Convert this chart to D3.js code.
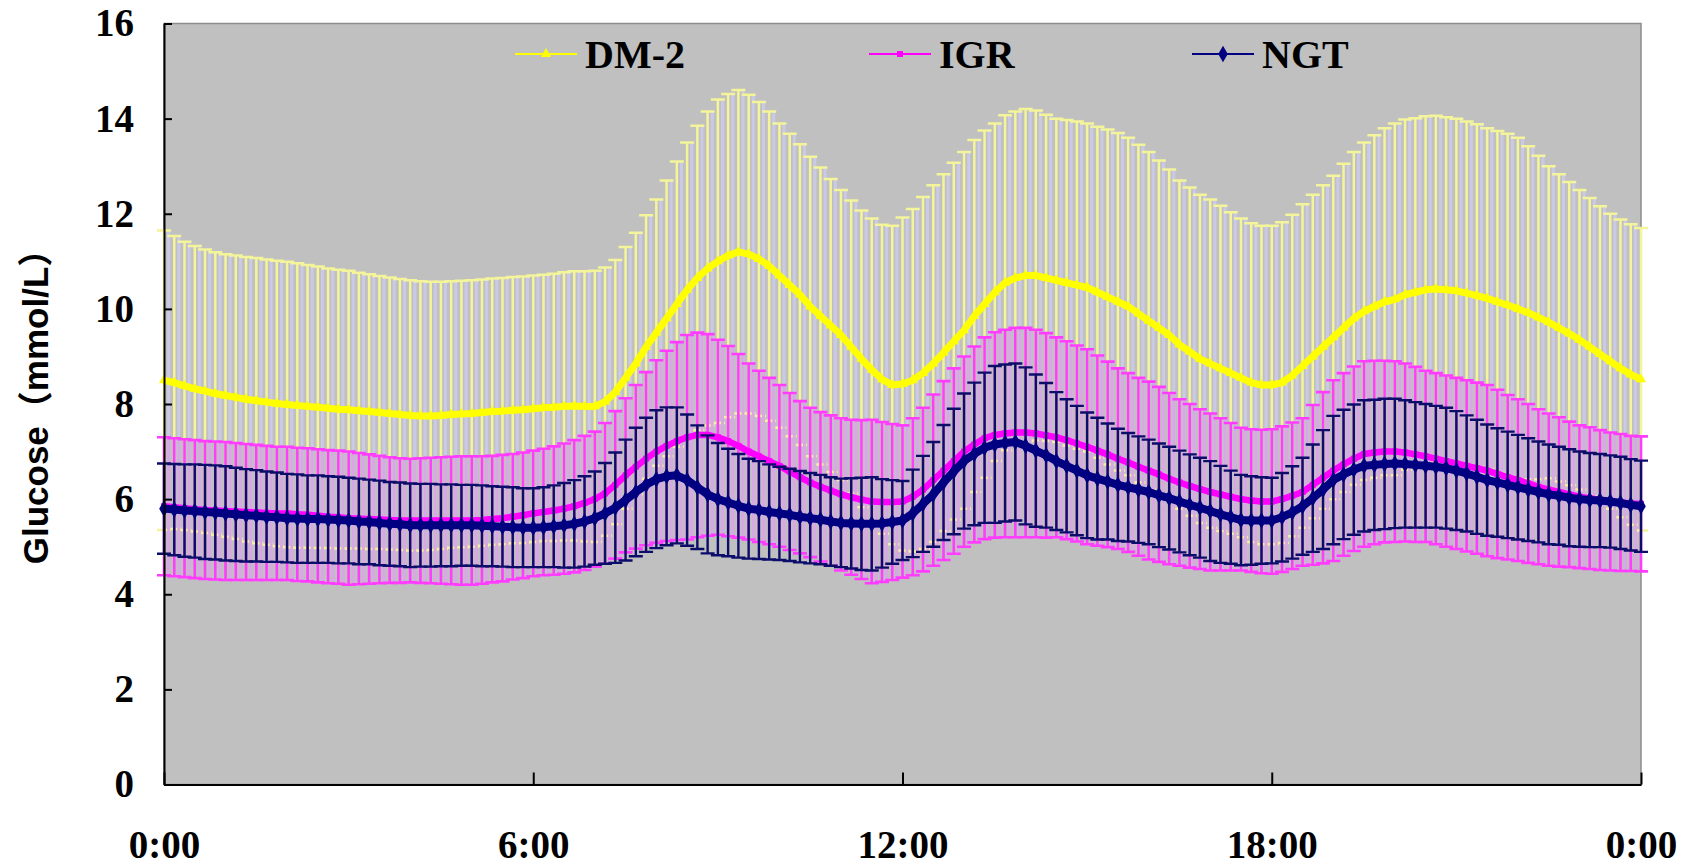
<!DOCTYPE html>
<html>
<head>
<meta charset="utf-8">
<title>Glucose profile</title>
<script src="https://d3js.org/d3.v7.min.js"></script>
<style>
body { margin: 0; background: #ffffff; }
.tick text { font-family: "Liberation Serif", "Times New Roman", serif; font-weight: bold; }
</style>
</head>
<body>
<div id="chart"></div>
<script>
// groups in legend order
var seriesNames = ["DM-2", "IGR", "NGT"];

// axis ticks
var yTicks = [0, 2, 4, 6, 8, 10, 12, 14, 16];
var xTickMinutes = [0, 360, 720, 1080, 1440];
var xTickLabels = ["0:00", "6:00", "12:00", "18:00", "0:00"];

// sample times, minutes after midnight (every 10 min)
var minutes = d3.range(0, 1441, 10);

// mean glucose (mmol/L), one row per hour
var dm2Mean = [
  8.50, 8.45, 8.38, 8.32, 8.27, 8.22,
  8.18, 8.14, 8.10, 8.07, 8.04, 8.01,
  7.99, 7.97, 7.95, 7.93, 7.91, 7.89,
  7.88, 7.86, 7.84, 7.82, 7.80, 7.78,
  7.76, 7.75, 7.75, 7.76, 7.78, 7.79,
  7.80, 7.82, 7.84, 7.85, 7.87, 7.88,
  7.90, 7.92, 7.93, 7.95, 7.96, 7.95,
  7.95, 8.05, 8.25, 8.55, 8.85, 9.20,
  9.50, 9.80, 10.10, 10.40, 10.65, 10.85,
  11.00, 11.12, 11.20, 11.15, 11.05, 10.90,
  10.70, 10.50, 10.30, 10.05, 9.85, 9.65,
  9.45, 9.20, 8.95, 8.72, 8.52, 8.40,
  8.42, 8.50, 8.65, 8.85, 9.08, 9.32,
  9.55, 9.85, 10.10, 10.35, 10.55, 10.65,
  10.70, 10.70, 10.65, 10.60, 10.55, 10.50,
  10.45, 10.35, 10.25, 10.15, 10.05, 9.90,
  9.75, 9.60, 9.45, 9.25, 9.10, 8.95,
  8.85, 8.75, 8.65, 8.55, 8.45, 8.40,
  8.40, 8.45, 8.60, 8.80, 9.00, 9.20,
  9.40, 9.60, 9.80, 9.95, 10.05, 10.15,
  10.20, 10.30, 10.35, 10.40, 10.42, 10.40,
  10.38, 10.33, 10.28, 10.22, 10.15, 10.08,
  10.00, 9.92, 9.82, 9.72, 9.60, 9.48,
  9.35, 9.20, 9.05, 8.90, 8.75, 8.62,
  8.52
];
var dm2SD = [
  3.15, 3.08, 3.03, 3.00, 2.98, 2.97,
  2.97, 2.98, 2.99, 3.00, 3.00, 3.00,
  3.00, 2.99, 2.97, 2.96, 2.94, 2.93,
  2.92, 2.90, 2.89, 2.87, 2.86, 2.85,
  2.84, 2.83, 2.82, 2.81, 2.80, 2.80,
  2.80, 2.80, 2.80, 2.80, 2.80, 2.80,
  2.80, 2.80, 2.81, 2.82, 2.83, 2.84,
  2.85, 2.82, 2.78, 2.75, 2.75, 2.77,
  2.80, 2.90, 3.00, 3.10, 3.20, 3.30,
  3.40, 3.40, 3.40, 3.35, 3.30, 3.25,
  3.20, 3.18, 3.16, 3.15, 3.12, 3.08,
  3.05, 3.08, 3.12, 3.18, 3.25, 3.35,
  3.50, 3.60, 3.70, 3.75, 3.75, 3.75,
  3.75, 3.70, 3.65, 3.55, 3.52, 3.50,
  3.50, 3.47, 3.43, 3.40, 3.42, 3.44,
  3.45, 3.48, 3.52, 3.55, 3.55, 3.55,
  3.55, 3.52, 3.48, 3.45, 3.45, 3.45,
  3.45, 3.42, 3.38, 3.35, 3.35, 3.35,
  3.35, 3.37, 3.38, 3.40, 3.40, 3.40,
  3.40, 3.45, 3.50, 3.55, 3.60, 3.65,
  3.70, 3.68, 3.66, 3.65, 3.64, 3.63,
  3.62, 3.61, 3.60, 3.58, 3.59, 3.60,
  3.60, 3.50, 3.40, 3.28, 3.23, 3.19,
  3.15, 3.13, 3.11, 3.10, 3.13, 3.16,
  3.18
];

var igrMean = [
  5.85, 5.83, 5.81, 5.79, 5.77, 5.76,
  5.75, 5.74, 5.73, 5.72, 5.71, 5.70,
  5.70, 5.68, 5.67, 5.65, 5.63, 5.62,
  5.60, 5.59, 5.58, 5.57, 5.56, 5.55,
  5.55, 5.55, 5.55, 5.55, 5.55, 5.55,
  5.55, 5.56, 5.58, 5.60, 5.63, 5.66,
  5.70, 5.73, 5.76, 5.80, 5.85, 5.92,
  6.00, 6.12, 6.30, 6.50, 6.68, 6.85,
  7.00, 7.12, 7.22, 7.30, 7.35, 7.35,
  7.30, 7.22, 7.12, 7.00, 6.90, 6.80,
  6.70, 6.58, 6.46, 6.35, 6.26, 6.18,
  6.10, 6.04, 5.99, 5.95, 5.94, 5.94,
  5.95, 6.05, 6.20, 6.40, 6.60, 6.80,
  7.00, 7.15, 7.28, 7.35, 7.38, 7.40,
  7.40, 7.38, 7.34, 7.30, 7.24, 7.17,
  7.10, 7.02, 6.94, 6.85, 6.77, 6.68,
  6.60, 6.52, 6.43, 6.35, 6.28, 6.21,
  6.15, 6.10, 6.05, 6.00, 5.97, 5.95,
  5.95, 6.00, 6.07, 6.15, 6.30, 6.45,
  6.60, 6.73, 6.85, 6.95, 6.98, 7.00,
  7.00, 6.98, 6.94, 6.90, 6.85, 6.80,
  6.75, 6.70, 6.65, 6.60, 6.53, 6.46,
  6.40, 6.33, 6.26, 6.20, 6.15, 6.10,
  6.05, 6.02, 5.98, 5.95, 5.93, 5.91,
  5.90
];
var igrSD = [
  1.45, 1.45, 1.45, 1.45, 1.45, 1.45,
  1.45, 1.44, 1.43, 1.42, 1.41, 1.40,
  1.40, 1.40, 1.40, 1.40, 1.40, 1.40,
  1.40, 1.38, 1.36, 1.34, 1.32, 1.31,
  1.30, 1.31, 1.32, 1.33, 1.34, 1.35,
  1.35, 1.34, 1.33, 1.33, 1.32, 1.32,
  1.32, 1.33, 1.35, 1.37, 1.39, 1.41,
  1.42, 1.48, 1.55, 1.62, 1.72, 1.82,
  1.92, 2.00, 2.08, 2.15, 2.15, 2.12,
  2.05, 2.00, 1.93, 1.85, 1.80, 1.75,
  1.70, 1.65, 1.60, 1.57, 1.57, 1.58,
  1.60, 1.63, 1.67, 1.72, 1.68, 1.64,
  1.60, 1.65, 1.72, 1.80, 1.88, 1.95,
  2.00, 2.06, 2.12, 2.16, 2.18, 2.20,
  2.20, 2.18, 2.15, 2.10, 2.08, 2.06,
  2.05, 2.00, 1.95, 1.90, 1.88, 1.87,
  1.87, 1.84, 1.80, 1.75, 1.72, 1.68,
  1.65, 1.60, 1.55, 1.50, 1.50, 1.51,
  1.52, 1.53, 1.54, 1.55, 1.68, 1.80,
  1.90, 1.92, 1.94, 1.95, 1.93, 1.91,
  1.90, 1.87, 1.84, 1.80, 1.80, 1.80,
  1.80, 1.80, 1.80, 1.80, 1.77, 1.73,
  1.70, 1.67, 1.63, 1.60, 1.57, 1.53,
  1.50, 1.49, 1.47, 1.45, 1.44, 1.42,
  1.42
];

var ngtMean = [
  5.80, 5.78, 5.76, 5.75, 5.73, 5.72,
  5.70, 5.68, 5.66, 5.65, 5.63, 5.62,
  5.60, 5.59, 5.58, 5.58, 5.57, 5.56,
  5.55, 5.53, 5.52, 5.50, 5.48, 5.47,
  5.45, 5.45, 5.45, 5.45, 5.45, 5.45,
  5.45, 5.44, 5.43, 5.42, 5.41, 5.40,
  5.40, 5.41, 5.43, 5.45, 5.48, 5.53,
  5.60, 5.70, 5.82, 5.98, 6.15, 6.30,
  6.42, 6.48, 6.50, 6.40, 6.25, 6.10,
  6.00, 5.93, 5.86, 5.80, 5.77, 5.73,
  5.70, 5.67, 5.63, 5.60, 5.57, 5.53,
  5.50, 5.49, 5.48, 5.48, 5.49, 5.52,
  5.55, 5.70, 5.90, 6.10, 6.35, 6.58,
  6.80, 6.95, 7.08, 7.15, 7.18, 7.20,
  7.12, 7.02, 6.92, 6.80, 6.70, 6.60,
  6.50, 6.43, 6.37, 6.30, 6.25, 6.20,
  6.15, 6.08, 6.02, 5.95, 5.88, 5.82,
  5.75, 5.68, 5.62, 5.56, 5.55, 5.55,
  5.55, 5.62, 5.72, 5.85, 6.02, 6.20,
  6.40, 6.52, 6.62, 6.70, 6.72, 6.74,
  6.75, 6.74, 6.72, 6.70, 6.68, 6.65,
  6.60, 6.54, 6.47, 6.40, 6.35, 6.30,
  6.25, 6.20, 6.15, 6.10, 6.07, 6.03,
  6.00, 5.98, 5.97, 5.95, 5.92, 5.88,
  5.85
];
var ngtSD = [
  0.95, 0.96, 0.97, 0.98, 0.99, 0.99,
  0.99, 0.98, 0.97, 0.96, 0.95, 0.94,
  0.93, 0.93, 0.92, 0.92, 0.91, 0.91,
  0.90, 0.90, 0.89, 0.89, 0.88, 0.88,
  0.88, 0.87, 0.87, 0.86, 0.86, 0.85,
  0.85, 0.85, 0.84, 0.84, 0.84, 0.83,
  0.83, 0.84, 0.86, 0.89, 0.92, 0.95,
  0.98, 1.06, 1.16, 1.27, 1.35, 1.41,
  1.45, 1.45, 1.43, 1.38, 1.30, 1.24,
  1.18, 1.13, 1.09, 1.05, 1.03, 1.00,
  0.98, 0.97, 0.96, 0.95, 0.94, 0.93,
  0.93, 0.95, 0.97, 0.98, 0.93, 0.88,
  0.83, 0.92, 1.01, 1.10, 1.21, 1.32,
  1.42, 1.50, 1.58, 1.65, 1.65, 1.65,
  1.65, 1.60, 1.52, 1.45, 1.40, 1.36,
  1.32, 1.28, 1.22, 1.18, 1.14, 1.12,
  1.10, 1.09, 1.08, 1.07, 1.06, 1.05,
  1.05, 1.02, 0.98, 0.95, 0.93, 0.91,
  0.90, 0.93, 0.97, 1.02, 1.13, 1.25,
  1.35, 1.36, 1.37, 1.38, 1.37, 1.37,
  1.36, 1.34, 1.32, 1.30, 1.28, 1.27,
  1.25, 1.22, 1.20, 1.17, 1.14, 1.12,
  1.10, 1.08, 1.06, 1.05, 1.03, 1.02,
  1.00, 0.99, 0.98, 0.97, 0.97, 0.96,
  0.96
];

// page / plot box
var width = 1692;
var height = 866;
var plot = {left: 164, right: 1641, top: 23.5, bottom: 784.5};

// drawing style per group (bars drawn first to last)
var styles = [
  {bar: "#f4f49a", shade: "#cacae8", barWidth: 2.5, line: "#ffff00", lineWidth: 7, symbol: d3.symbolTriangle, size: 45},
  {bar: "#ff3cff", shade: "#d9a6e6", barWidth: 2.6, line: "#ff00ff", lineWidth: 6.5, symbol: d3.symbolSquare, size: 36},
  {bar: "#0c0c6a", shade: null, barWidth: 2.4, line: "#000080", lineWidth: 8, symbol: d3.symbolDiamond, size: 80}
];

var x = d3.scaleLinear().domain([0, 1440]).range([plot.left, plot.right]);
var y = d3.scaleLinear().domain([0, 16]).range([plot.bottom, plot.top]);

function BuildSeries() {
    var means = [dm2Mean, igrMean, ngtMean];
    var sds = [dm2SD, igrSD, ngtSD];
    return seriesNames.map(function (name, i) {
        return {
            name: name,
            style: styles[i],
            points: minutes.map(function (m, j) {
                return {t: m, mean: means[i][j], sd: sds[i][j]};
            })
        };
    });
}

function ErrorBarPath(d, capHalf) {
    var cx = x(d.t);
    var hi = y(d.mean + d.sd);
    var lo = y(d.mean - d.sd);
    return "M" + (cx - capHalf) + "," + hi + "H" + (cx + capHalf) +
        "M" + cx + "," + hi + "V" + lo +
        "M" + (cx - capHalf) + "," + lo + "H" + (cx + capHalf);
}

function DrawChart(series) {
    var svg = d3.select("#chart")
        .append("svg")
        .attr("width", width)
        .attr("height", height)
        .style("display", "block");

    // grey plot area
    svg.append("rect")
        .attr("x", plot.left)
        .attr("y", plot.top)
        .attr("width", plot.right - plot.left)
        .attr("height", plot.bottom - plot.top)
        .attr("fill", "#c0c0c0")
        .attr("stroke", "#8c8c8c")
        .attr("stroke-width", 1.5);

    series.forEach(function (s) {
        var g = svg.append("g").attr("class", "series");

        // soft fringe beside the bars, as in the scanned figure
        if (s.style.shade) {
            g.selectAll("path.shade")
                .data(s.points.slice(0, -1))
                .enter()
                .append("path")
                    .attr("class", "shade")
                    .attr("d", function (d) { return ErrorBarPath(d, 0); })
                    .attr("transform", "translate(4.6,0)")
                    .attr("stroke", s.style.shade)
                    .attr("stroke-width", 3)
                    .attr("fill", "none");
        }

        g.selectAll("path.bar")
            .data(s.points)
            .enter()
            .append("path")
                .attr("class", "bar")
                .attr("d", function (d) { return ErrorBarPath(d, 7); })
                .attr("stroke", s.style.bar)
                .attr("stroke-width", s.style.barWidth)
                .attr("fill", "none");

        var line = d3.line()
            .x(function (d) { return x(d.t); })
            .y(function (d) { return y(d.mean); });

        g.append("path")
            .datum(s.points)
            .attr("d", line)
            .attr("fill", "none")
            .attr("stroke", s.style.line)
            .attr("stroke-width", s.style.lineWidth)
            .attr("stroke-linejoin", "round");

        g.selectAll("path.mark")
            .data(s.points)
            .enter()
            .append("path")
                .attr("class", "mark")
                .attr("d", d3.symbol().type(s.style.symbol).size(s.style.size))
                .attr("transform", function (d) {
                    return "translate(" + x(d.t) + "," + y(d.mean) + ")";
                })
                .attr("fill", s.style.line);
    });

    // axes
    var yAxis = d3.axisLeft(y)
        .tickValues(yTicks)
        .tickSizeInner(-8)
        .tickSizeOuter(0)
        .tickPadding(30);

    var xAxis = d3.axisBottom(x)
        .tickValues(xTickMinutes)
        .tickFormat(function (d, i) { return xTickLabels[i]; })
        .tickSizeInner(-12)
        .tickSizeOuter(0)
        .tickPadding(46);

    var gy = svg.append("g")
        .attr("transform", "translate(" + plot.left + ",0)")
        .call(yAxis);
    gy.selectAll("text").attr("font-size", 39).attr("fill", "#000");

    var gx = svg.append("g")
        .attr("transform", "translate(0," + plot.bottom + ")")
        .call(xAxis);
    gx.selectAll("text").attr("font-size", 39).attr("fill", "#000");

    svg.selectAll(".domain, .tick line")
        .attr("stroke", "#000")
        .attr("stroke-width", 2);

    // y title
    svg.append("text")
        .attr("transform", "translate(48,398) rotate(-90)")
        .attr("text-anchor", "middle")
        .attr("font-family", "'Liberation Sans', Arial, 'Noto Sans CJK SC', sans-serif")
        .attr("font-weight", "bold")
        .attr("font-size", 35)
        .text("Glucose（mmol/L）");

    // legend inside the plot
    var legendX = [515, 869, 1192];
    var legend = svg.append("g")
        .selectAll("g")
        .data(series)
        .enter()
        .append("g")
            .attr("transform", function (d, i) { return "translate(" + legendX[i] + ",54)"; });

    legend.append("line")
        .attr("x1", 0)
        .attr("x2", 62)
        .attr("stroke", function (d) { return d.style.line; })
        .attr("stroke-width", 2);

    legend.append("path")
        .attr("d", function (d) { return d3.symbol().type(d.style.symbol).size(d.style.size)(); })
        .attr("transform", "translate(31,0)")
        .attr("fill", function (d) { return d.style.line; });

    legend.append("text")
        .attr("x", 70)
        .attr("y", 14)
        .attr("font-family", "'Liberation Serif', 'Times New Roman', serif")
        .attr("font-weight", "bold")
        .attr("font-size", 40)
        .text(function (d) { return d.name; });
}

DrawChart(BuildSeries());
</script>
</body>
</html>
